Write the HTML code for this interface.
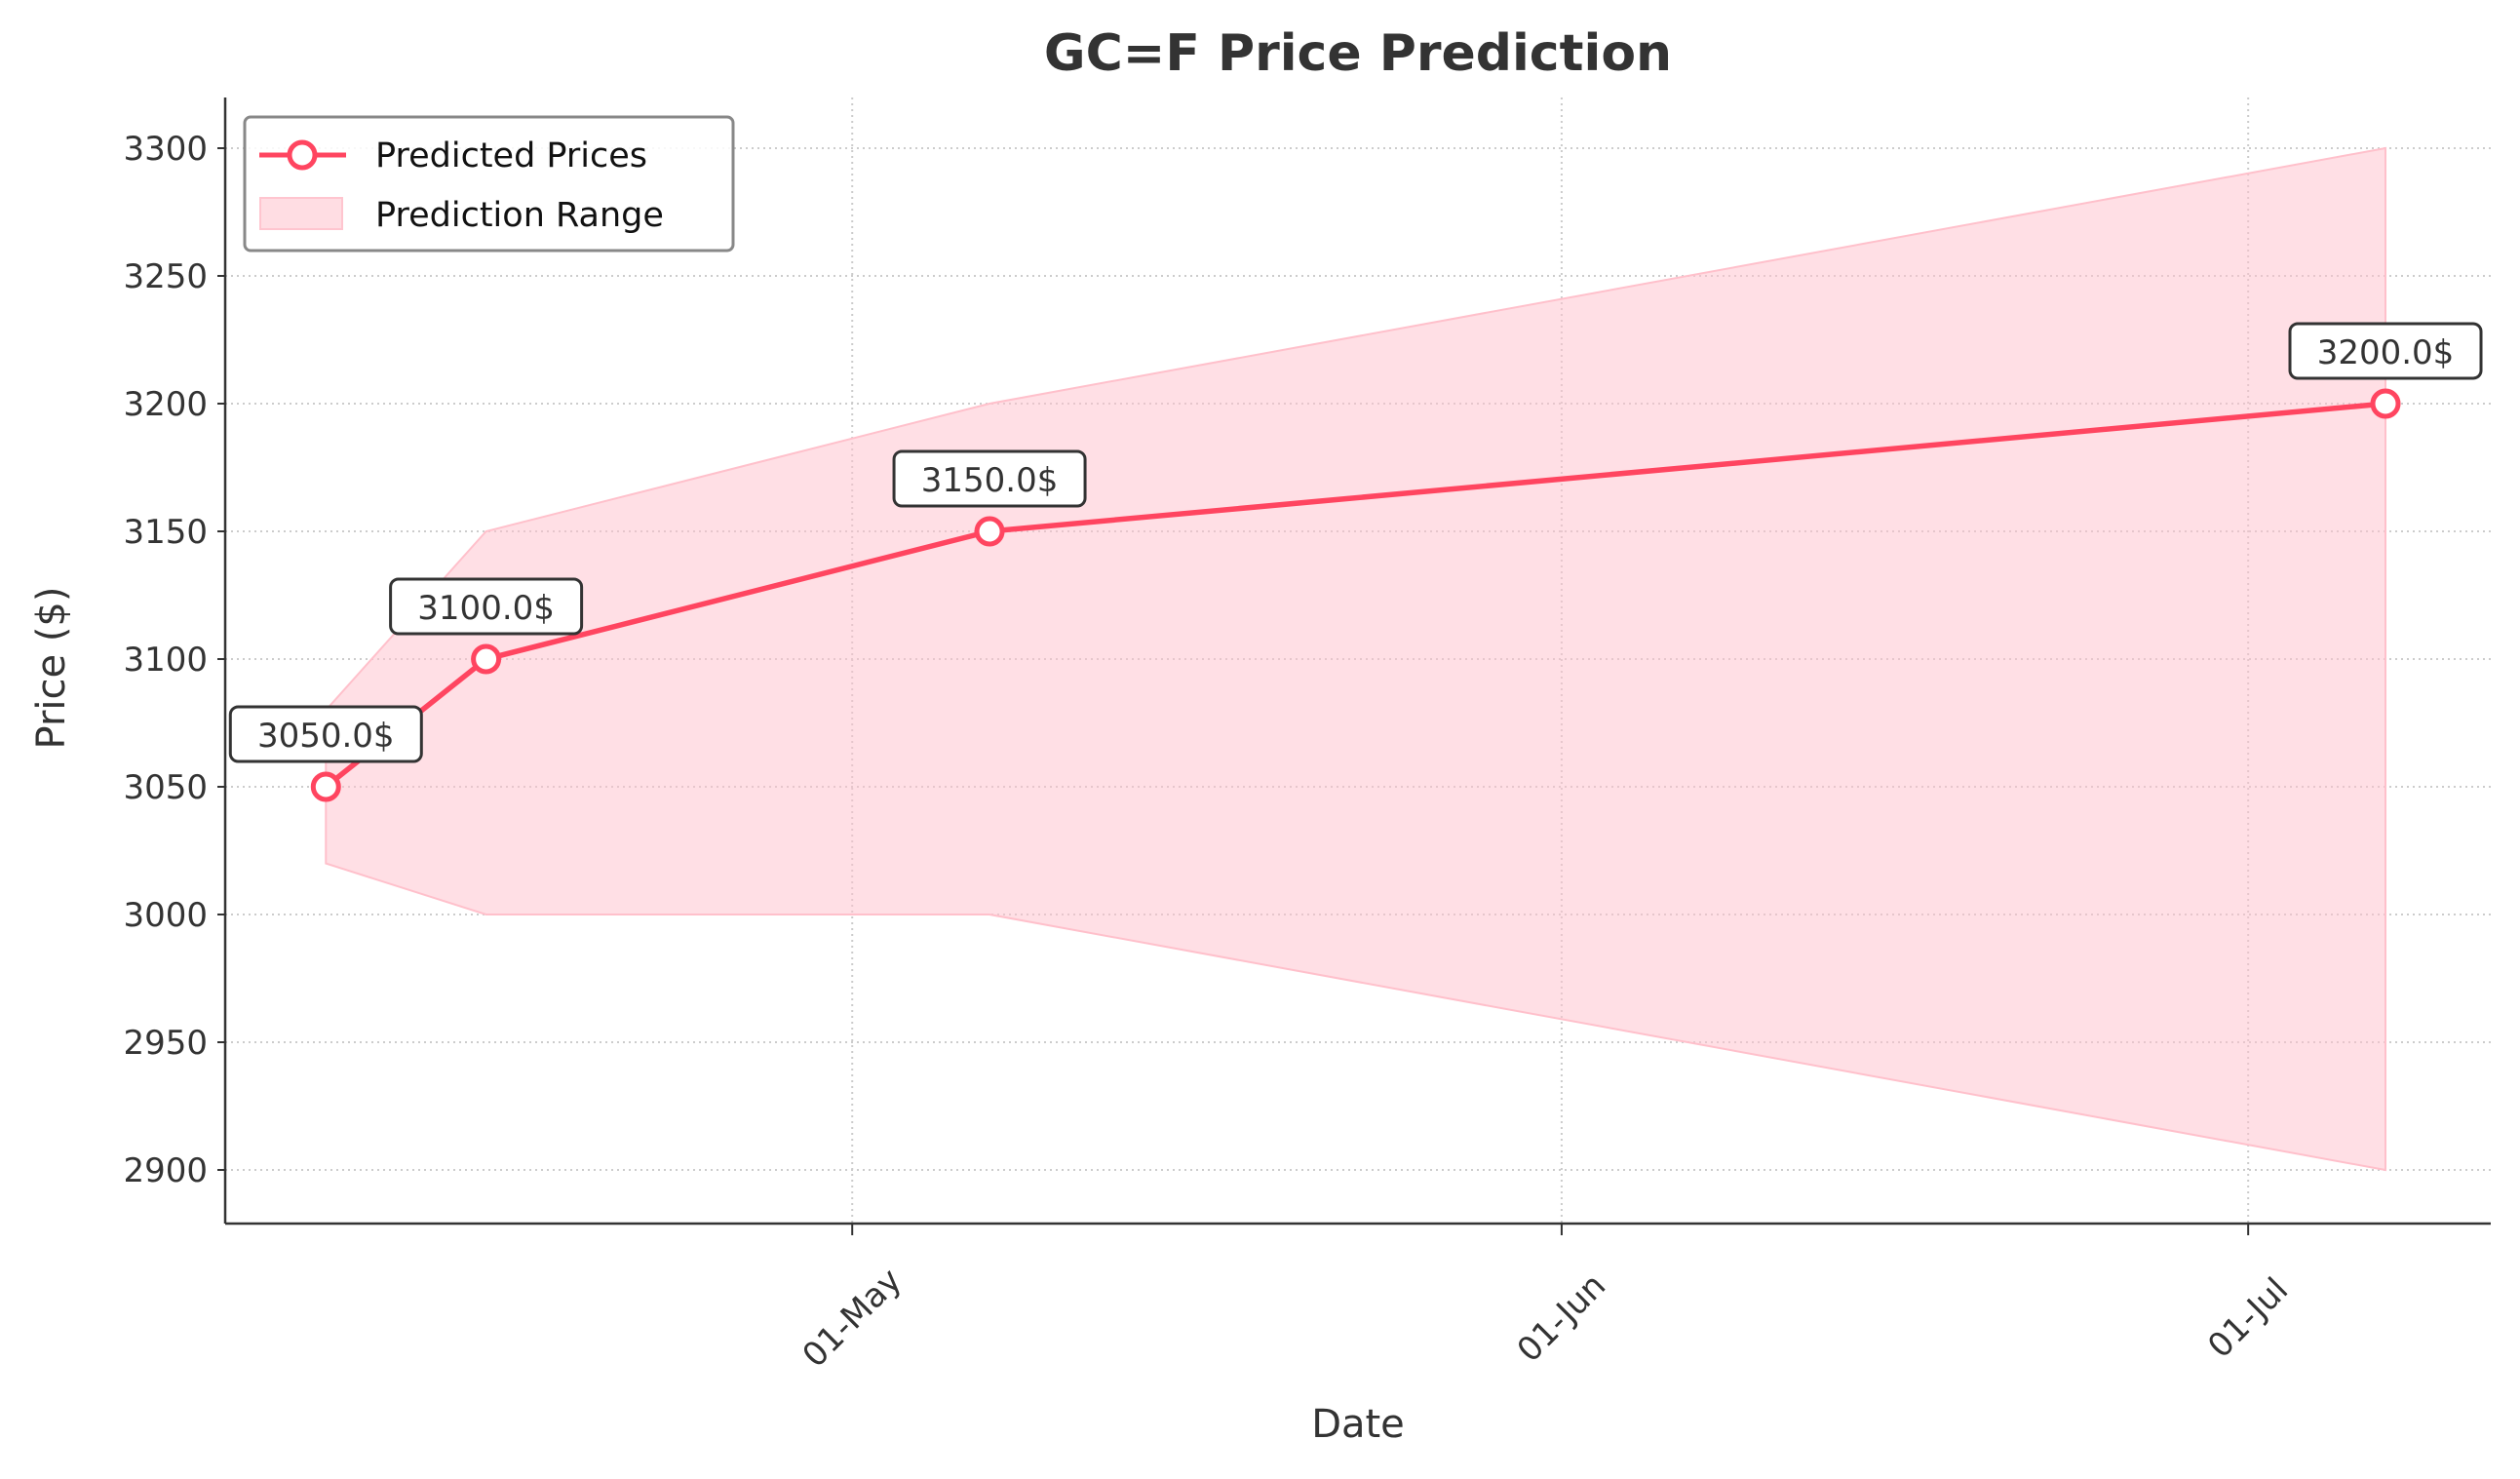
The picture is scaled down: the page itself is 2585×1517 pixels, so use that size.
<!DOCTYPE html>
<html><head><meta charset="utf-8"><style>
html,body{margin:0;padding:0;background:#fff;}
svg{display:block;font-family:"DejaVu Sans","Liberation Sans",sans-serif;}
</style></head><body>
<svg id="chart" width="2585" height="1517" viewBox="0 0 2585 1517" xmlns="http://www.w3.org/2000/svg">
<rect width="2585" height="1517" fill="#fff"/>
<text x="1393" y="72" text-anchor="middle" font-size="52" font-weight="bold" fill="#333">GC=F Price Prediction</text>
<g id="grid"></g>
<g id="band"></g>
<g id="line"></g>
<g id="axes"></g>
<text x="1393" y="1474" text-anchor="middle" font-size="40" fill="#333">Date</text>
<text transform="translate(66,685) rotate(-90)" text-anchor="middle" font-size="40" fill="#333">Price ($)</text>
<g>
<rect x="251" y="120" width="501" height="137" rx="6" fill="#fff" fill-opacity="0.85" stroke="#888" stroke-width="3"/>
<line x1="266" y1="159" x2="355" y2="159" stroke="#ff4560" stroke-width="5"/>
<circle cx="310" cy="159" r="13" fill="#fff" stroke="#ff4560" stroke-width="5"/>
<text x="385" y="171" font-size="35" fill="#111">Predicted Prices</text>
<rect x="267" y="203" width="84" height="32" fill="#ffdde3" stroke="#ffc5cf" stroke-width="2"/>
<text x="385" y="232" font-size="35" fill="#111">Prediction Range</text>
</g>
</svg>
<script>
const dates = ["2025-04-08","2025-04-15","2025-05-07","2025-07-07"];
const prices = [3050, 3100, 3150, 3200];
const lower = [3020, 3000, 3000, 2900];
const upper = [3080, 3150, 3200, 3300];
const yTicks = [2900, 2950, 3000, 3050, 3100, 3150, 3200, 3250, 3300];
const xTickDates = ["2025-05-01","2025-06-01","2025-07-01"];
const xTickLabels = ["01-May","01-Jun","01-Jul"];

const NS="http://www.w3.org/2000/svg";
const L=231,R=2555,T=100,B=1255;
const day=86400000;
const x0=Date.parse("2025-05-01")-27.4*day, x1=Date.parse("2025-07-01")+10.6*day;
function xs(d){return L+(Date.parse(d)-x0)/(x1-x0)*(R-L);}
function ys(v){return 152+(3300-v)*(131/50);}
function mk(tag,attrs,parent){const e=document.createElementNS(NS,tag);for(const k in attrs)e.setAttribute(k,attrs[k]);parent.appendChild(e);return e;}
const grid=document.getElementById('grid'),axes=document.getElementById('axes');
yTicks.forEach(v=>{
  const g=mk('line',{x1:L,x2:R,y1:ys(v),y2:ys(v),stroke:'#ccc','stroke-width':2,'stroke-dasharray':'2,4'},grid);
  
  
  mk('line',{x1:L-8,x2:L,y1:ys(v),y2:ys(v),stroke:'#333','stroke-width':2},axes);
  const t=mk('text',{x:L-18,y:ys(v)+12,'text-anchor':'end','font-size':34,fill:'#333'},axes);
  t.textContent=v;
  
  
});
xTickDates.forEach((d,i)=>{
  const x=xs(d);
  const g=mk('line',{x1:x,x2:x,y1:T,y2:B,stroke:'#ccc','stroke-width':2,'stroke-dasharray':'2,4'},grid);
  
  
  mk('line',{x1:x,x2:x,y1:B,y2:B+12,stroke:'#333','stroke-width':2},axes);
  const t=mk('text',{transform:`translate(${x},${B+97}) rotate(-45)`,'text-anchor':'middle','dominant-baseline':'central','font-size':34,fill:'#333'},axes);
  t.textContent=xTickLabels[i];
  
  
});
mk('line',{x1:L,x2:L,y1:T,y2:B,stroke:'#333','stroke-width':2.5},axes);
mk('line',{x1:L,x2:R,y1:B,y2:B,stroke:'#333','stroke-width':2.5},axes);
let pts=dates.map((d,i)=>xs(d)+','+ys(upper[i]));
for(let i=dates.length-1;i>=0;i--)pts.push(xs(dates[i])+','+ys(lower[i]));
const band=mk('polygon',{points:pts.join(' '),fill:'#ffc0cb','fill-opacity':0.5,stroke:'#ffc0cb','stroke-width':2},document.getElementById('band'));


const lg=document.getElementById('line');
const pl=mk('polyline',{points:dates.map((d,i)=>xs(d)+','+ys(prices[i])).join(' '),fill:'none',stroke:'#ff4560','stroke-width':5.5,'stroke-linejoin':'round'},lg);


dates.forEach((d,i)=>{
  const x=xs(d),y=ys(prices[i]);
  const c=mk('circle',{cx:x,cy:y,r:13,fill:'#fff',stroke:'#ff4560',"stroke-width":5},lg);
  
  
  const b=mk('rect',{x:x-98,y:y-82,width:196,height:56,rx:8,fill:'#fff',stroke:'#333','stroke-width':3},lg);
  
  
  const t=mk('text',{x:x,y:y-41,'text-anchor':'middle','font-size':34,fill:'#333'},lg);
  t.textContent=prices[i].toFixed(1)+'$';
  
  
});
</script>
</body></html>
